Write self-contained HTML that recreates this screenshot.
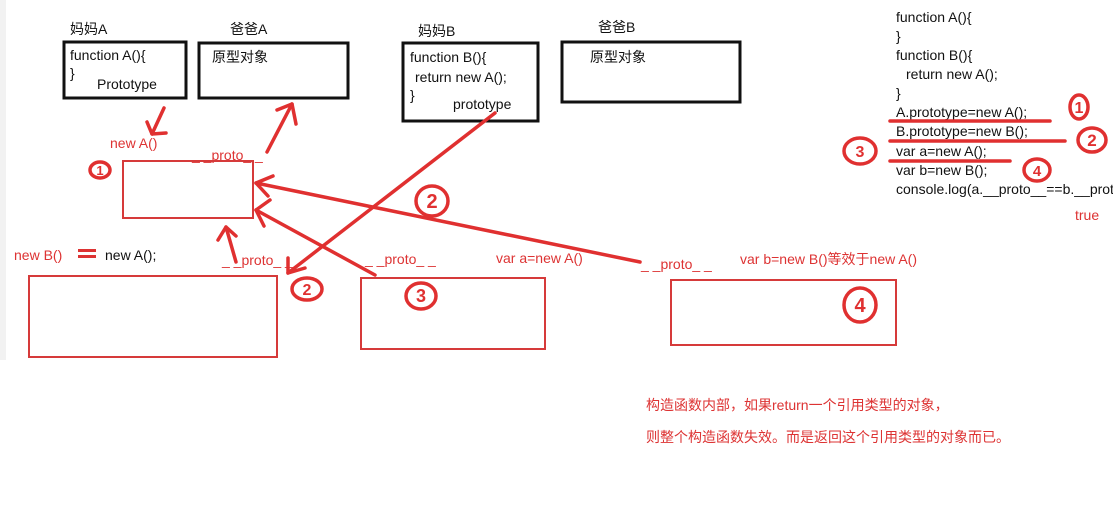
<!DOCTYPE html>
<html><head><meta charset="utf-8"><style>
html,body{margin:0;padding:0;background:#fff;width:1113px;height:514px;overflow:hidden}
svg{display:block}
text{font-family:"Liberation Sans","Noto Sans CJK SC",sans-serif}
</style></head><body>
<svg width="1113" height="514" viewBox="0 0 1113 514" xmlns="http://www.w3.org/2000/svg">
<rect x="0" y="0" width="6" height="360" fill="#f2f2f2"/>
<g font-size="14" fill="#111">
<text x="70" y="34">妈妈A</text>
<text x="230" y="34">爸爸A</text>
<text x="418" y="36">妈妈B</text>
<text x="598" y="32">爸爸B</text>
</g>
<g fill="none" stroke="#111" stroke-width="3">
<rect x="64" y="42" width="122" height="56"/>
<rect x="199" y="43" width="149" height="55"/>
<rect x="403" y="43" width="135" height="78"/>
<rect x="562" y="42" width="178" height="60"/>
</g>
<g font-size="14" fill="#111">
<text x="70" y="60">function A(){</text>
<text x="70" y="78">}</text>
<text x="97" y="89">Prototype</text>
<text x="212" y="62">原型对象</text>
<text x="410" y="62">function B(){</text>
<text x="415" y="82">return new A();</text>
<text x="410" y="100">}</text>
<text x="453" y="109">prototype</text>
<text x="590" y="62">原型对象</text>
</g>
<g font-size="14" fill="#111">
<text x="896" y="22">function A(){</text>
<text x="896" y="41">}</text>
<text x="896" y="60">function B(){</text>
<text x="906" y="79">return new A();</text>
<text x="896" y="98">}</text>
<text x="896" y="117">A.prototype=new A();</text>
<text x="896" y="136">B.prototype=new B();</text>
<text x="896" y="156">var a=new A();</text>
<text x="896" y="175">var b=new B();</text>
<text x="896" y="194">console.log(a.__proto__==b.__proto__)</text>
</g>
<g font-size="14" fill="#d33">
<text x="1075" y="220">true</text>
<text x="110" y="148">new A()</text>
<text x="192" y="160">_ _proto_ _</text>
<text x="14" y="260">new B()</text>
<text x="222" y="265">_ _proto_ _</text>
<text x="365" y="264">_ _proto_ _</text>
<text x="496" y="263">var a=new A()</text>
<text x="641" y="269">_ _proto_ _</text>
<text x="740" y="264">var b=new B()等效于new A()</text>
<text x="646" y="410">构造函数内部，如果return一个引用类型的对象，</text>
<text x="646" y="442">则整个构造函数失效。而是返回这个引用类型的对象而已。</text>
</g>
<text x="105" y="260" font-size="14" fill="#111">new A();</text>
<rect x="78" y="249" width="18" height="3" fill="#d33"/><rect x="78" y="255" width="18" height="3" fill="#d33"/>
<g fill="none" stroke="#d63a3a" stroke-width="2">
<rect x="123" y="161" width="130" height="57"/>
<rect x="29" y="276" width="248" height="81"/>
<rect x="361" y="278" width="184" height="71"/>
<rect x="671" y="280" width="225" height="65"/>
</g>
<g fill="none" stroke="#e03030" stroke-width="3.5" stroke-linecap="round" stroke-linejoin="round">
<line x1="164" y1="108" x2="152" y2="134"/><polyline points="147,122 152,134 166,133"/>
<line x1="267" y1="152" x2="292" y2="104"/><polyline points="277,110 292,104 296,124"/>
<line x1="495" y1="113" x2="288" y2="273"/><polyline points="288,258 288,273 305,268"/>
<line x1="640" y1="262" x2="256" y2="183"/><polyline points="273,176 256,183 268,196"/>
<line x1="375" y1="275" x2="256" y2="210"/><polyline points="270,200 256,210 264,226"/>
<line x1="236" y1="262" x2="226" y2="227"/><polyline points="218,240 226,227 236,236"/>
<line x1="890" y1="121" x2="1050" y2="121"/>
<line x1="890" y1="141" x2="1065" y2="141"/>
<line x1="890" y1="161" x2="1010" y2="161"/>
</g>
<g fill="none" stroke="#e03030" stroke-width="3.5">
<ellipse cx="100" cy="170" rx="10" ry="8"/>
<ellipse cx="432" cy="201" rx="16" ry="15"/>
<ellipse cx="307" cy="289" rx="15" ry="11"/>
<ellipse cx="421" cy="296" rx="15" ry="13"/>
<ellipse cx="860" cy="305" rx="16" ry="17"/>
<ellipse cx="1079" cy="107" rx="9" ry="12"/>
<ellipse cx="1092" cy="140" rx="14" ry="12"/>
<ellipse cx="860" cy="151" rx="16" ry="13"/>
<ellipse cx="1037" cy="170" rx="13" ry="11"/>
</g>
<g fill="#e03030" font-weight="bold" text-anchor="middle">
<text x="100" y="175" font-size="13">1</text>
<text x="432" y="208" font-size="20">2</text>
<text x="307" y="295" font-size="16">2</text>
<text x="421" y="302" font-size="18">3</text>
<text x="860" y="312" font-size="20">4</text>
<text x="1079" y="113" font-size="16">1</text>
<text x="1092" y="146" font-size="17">2</text>
<text x="860" y="157" font-size="16">3</text>
<text x="1037" y="176" font-size="15">4</text>
</g>
</svg>
</body></html>
